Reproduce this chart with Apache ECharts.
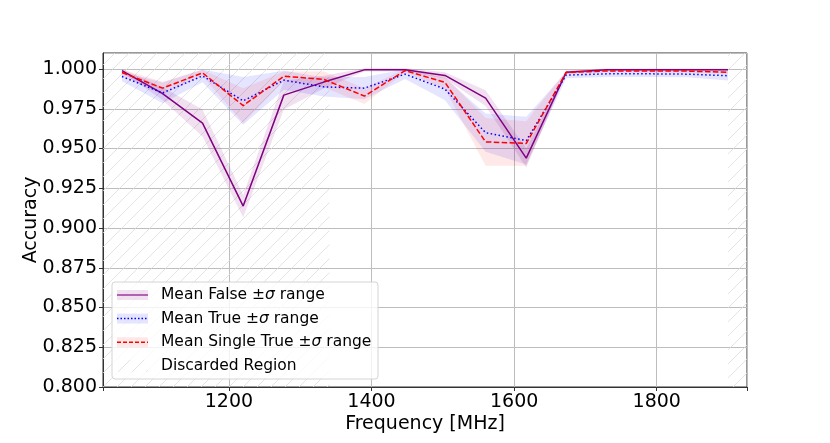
<!DOCTYPE html>
<html>
<head>
    <meta charset="utf-8">
    <title>Accuracy vs Frequency</title>
    <script src="https://cdn.jsdelivr.net/npm/echarts@6/dist/echarts.min.js"></script>
    <style>
        body, html {
            margin: 0;
            background: #fff;
        }

        #main {
            width: 830px;
            height: 443px;
        }
    </style>
</head>
<body>
<div id="main"></div>
<script type="text/javascript">
    // frequencies (MHz)
    var freqs = [1050, 1107, 1163, 1220, 1277, 1333, 1390, 1447, 1503, 1560, 1617, 1673, 1730, 1787, 1843, 1900];

    // mean accuracy per run type
    var falseMean = [0.9990, 0.9846, 0.9660, 0.9138, 0.9836, 0.9918, 0.9995, 0.9996, 0.9960, 0.9817, 0.9440, 0.9980, 0.9996, 0.9996, 0.9996, 0.9996];
    var trueMean = [0.9953, 0.9850, 0.9957, 0.9800, 0.9930, 0.9888, 0.9880, 0.9968, 0.9874, 0.9600, 0.9550, 0.9962, 0.9970, 0.9970, 0.9968, 0.9958];
    var singleMean = [0.9978, 0.9880, 0.9976, 0.9770, 0.9955, 0.9935, 0.9830, 0.9990, 0.9916, 0.9542, 0.9532, 0.9979, 0.9988, 0.9988, 0.9987, 0.9980];

    // standard deviations
    var falseSd = [0.0010, 0.0040, 0.0085, 0.0070, 0.0090, 0.0040, 0.0010, 0.0010, 0.0020, 0.0050, 0.0060, 0.0010, 0.0008, 0.0008, 0.0008, 0.0008];
    var trueSd = [0.0030, 0.0065, 0.0040, 0.0150, 0.0060, 0.0060, 0.0070, 0.0030, 0.0070, 0.0120, 0.0150, 0.0020, 0.0020, 0.0020, 0.0020, 0.0030];
    var singleSd = [0.0020, 0.0040, 0.0020, 0.0110, 0.0030, 0.0050, 0.0050, 0.0010, 0.0040, 0.0150, 0.0140, 0.0010, 0.0010, 0.0010, 0.0010, 0.0010];

    // hatched frequency spans
    var discarded = [[1023.4, 1341], [1900, 1926.6]];

    var yTicks = [0.800, 0.825, 0.850, 0.875, 0.900, 0.925, 0.950, 0.975, 1.000];

    var FONT = '"DejaVu Sans", sans-serif';

    // diagonal hatch tile
    function makeHatch() {
        var c = document.createElement('canvas');
        c.width = 14;
        c.height = 14;
        var ctx = c.getContext('2d');
        ctx.strokeStyle = '#dddddd';
        ctx.lineWidth = 0.8;
        ctx.beginPath();
        ctx.moveTo(-1, 15);
        ctx.lineTo(15, -1);
        ctx.stroke();
        return c;
    }
    var hatch = {image: makeHatch(), repeat: 'repeat'};

    function pairs(ys) {
        var out = [];
        for (var i = 0; i < freqs.length; i++) {
            out.push([freqs[i], ys[i]]);
        }
        return out;
    }

    // ±sigma band as one polygon, drawn through the axis scales
    function band(mean, sd, color) {
        var data = [];
        for (var i = 0; i < freqs.length; i++) {
            data.push([freqs[i], mean[i] - sd[i], mean[i] + sd[i]]);
        }
        return {
            type: 'custom',
            silent: true,
            z: 2,
            data: data,
            encode: {x: 0, y: [1, 2]},
            renderItem: function (params, api) {
                if (params.dataIndex !== 0) return null;
                var pts = [];
                var i;
                for (i = 0; i < data.length; i++) pts.push(api.coord([data[i][0], data[i][2]]));
                for (i = data.length - 1; i >= 0; i--) pts.push(api.coord([data[i][0], data[i][1]]));
                return {
                    type: 'polygon',
                    shape: {points: pts},
                    style: {fill: color, stroke: null}
                };
            }
        };
    }

    var purple = '#800080';
    var purpleFill = 'rgba(128,0,128,0.12)';
    var blueFill = 'rgba(0,0,255,0.10)';
    var redFill = 'rgba(255,0,0,0.09)';

    var series = [
        {
            type: 'line', data: [], silent: true, z: 1,
            markArea: {
                silent: true,
                itemStyle: {color: hatch},
                data: discarded.map(function (d) {
                    return [{xAxis: d[0]}, {xAxis: d[1]}];
                })
            }
        },
        band(falseMean, falseSd, purpleFill),
        band(trueMean, trueSd, blueFill),
        band(singleMean, singleSd, redFill),
        {
            name: 'Mean False', type: 'line', data: pairs(falseMean), symbol: 'none', z: 5,
            lineStyle: {color: purple, width: 1.5}
        },
        {
            name: 'Mean True', type: 'line', data: pairs(trueMean), symbol: 'none', z: 5,
            lineStyle: {color: '#0000ff', width: 1.5, type: [1.5, 2.5]}
        },
        {
            name: 'Mean Single True', type: 'line', data: pairs(singleMean), symbol: 'none', z: 5,
            lineStyle: {color: '#ff0000', width: 1.5, type: [5.5, 2.4]}
        }
    ];

    // legend drawn by hand to get the matplotlib look
    var legendRows = [
        {label: 'Mean False ', fill: purpleFill, color: 'rgba(128,0,128,0.75)', dash: null},
        {label: 'Mean True ', fill: blueFill, color: '#0000ff', dash: [1.5, 2]},
        {label: 'Mean Single True ', fill: redFill, color: '#ff0000', dash: [4, 2]},
        {label: 'Discarded Region', fill: null}
    ];
    var legendX = 112, legendY = 282, rowGap = 23.6;
    var graphics = [{
        type: 'rect', z: 50,
        shape: {x: legendX, y: legendY, width: 266, height: 97, r: 3},
        style: {fill: 'rgba(255,255,255,0.8)', stroke: '#d4d4d4', lineWidth: 1}
    }];
    legendRows.forEach(function (r, i) {
        var cy = legendY + 13 + i * rowGap;
        if (r.fill) {
            graphics.push({
                type: 'rect', z: 51,
                shape: {x: 117, y: cy - 5, width: 31, height: 10},
                style: {fill: r.fill}
            });
            graphics.push({
                type: 'line', z: 52,
                shape: {x1: 117, y1: cy, x2: 148, y2: cy},
                style: {stroke: r.color, lineWidth: 1.5, lineDash: r.dash}
            });
            graphics.push({
                type: 'text', z: 52, x: 161, y: cy,
                style: {
                    text: '{n|' + r.label + '±}{i|σ}{n| range}',
                    verticalAlign: 'middle',
                    rich: {
                        n: {fontFamily: FONT, fontSize: 15.5, fill: '#000'},
                        i: {fontFamily: FONT, fontSize: 15.5, fontStyle: 'italic', fill: '#000'}
                    }
                }
            });
        } else {
            graphics.push({
                type: 'rect', z: 51,
                shape: {x: 117, y: cy - 6, width: 31, height: 12},
                style: {fill: hatch}
            });
            graphics.push({
                type: 'text', z: 52, x: 161, y: cy,
                style: {text: r.label, verticalAlign: 'middle', fontFamily: FONT, fontSize: 15.5, fill: '#000'}
            });
        }
    });

    var myChart = echarts.init(document.getElementById('main'));

    var option = {
        backgroundColor: '#fff',
        animation: false,
        grid: {
            left: 103,
            right: 83,
            top: 53,
            bottom: 56,
            show: true,
            borderColor: '#333',
            borderWidth: 1,
            backgroundColor: 'transparent'
        },
        xAxis: {
            type: 'value',
            min: 1023.4,
            max: 1926.6,
            splitNumber: 5,
            name: 'Frequency [MHz]',
            nameLocation: 'middle',
            nameGap: 28,
            nameMoveOverlap: false,
            nameTextStyle: {fontFamily: FONT, fontSize: 19, color: '#000'},
            axisLine: {lineStyle: {color: '#333'}},
            axisTick: {length: 4, lineStyle: {color: '#333'}},
            axisLabel: {
                fontFamily: FONT, fontSize: 19, color: '#000', margin: 6,
                formatter: function (v) {
                    return Math.abs(v % 200) < 1e-6 ? String(v) : '';
                }
            },
            splitLine: {show: true, lineStyle: {color: '#bdbdbd', width: 1}}
        },
        yAxis: {
            type: 'value',
            min: 0.8,
            max: 1.0101,
            interval: 0.025,
            name: 'Accuracy',
            nameLocation: 'middle',
            nameGap: 62,
            nameMoveOverlap: false,
            nameTextStyle: {fontFamily: FONT, fontSize: 19, color: '#000'},
            axisLine: {show: true, lineStyle: {color: '#333'}},
            axisTick: {show: true, length: 4, lineStyle: {color: '#333'}},
            axisLabel: {
                fontFamily: FONT, fontSize: 19, color: '#000', margin: 6,
                showMaxLabel: false,
                formatter: function (v) {
                    for (var i = 0; i < yTicks.length; i++) {
                        if (Math.abs(v - yTicks[i]) < 1e-6) return yTicks[i].toFixed(3);
                    }
                    return '';
                }
            },
            splitLine: {show: true, lineStyle: {color: '#bdbdbd', width: 1}}
        },
        series: series,
        graphic: graphics
    };

    myChart.setOption(option);
</script>
</body>
</html>
